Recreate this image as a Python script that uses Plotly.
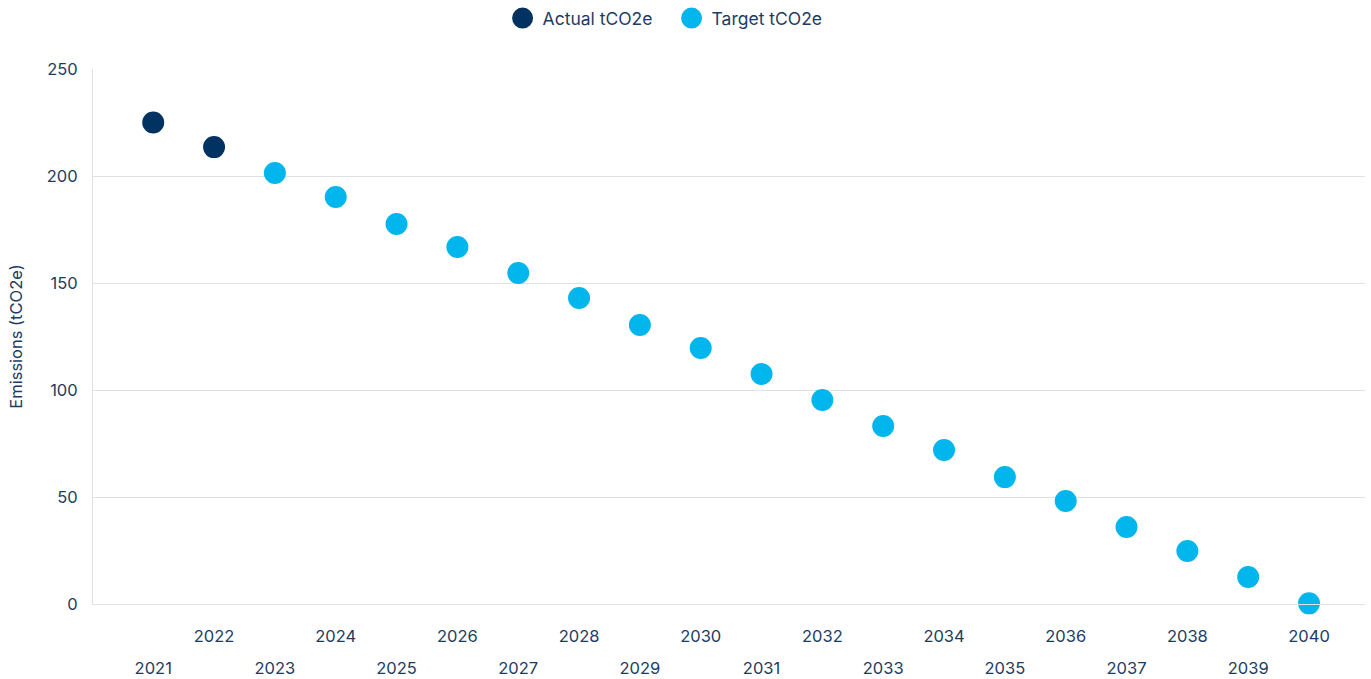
import plotly.graph_objects as go

years_actual = [2021, 2022]
actual_vals = [225, 213.5]
years_target = list(range(2023, 2041))
target_vals = [201.4, 190.2, 177.6, 166.8, 154.7, 143, 130.4, 119.6, 107.5,
               95.3, 83.2, 72, 59.3, 48.1, 36, 24.8, 12.6, 0.3]
all_years = list(range(2021, 2041))
even_years = [y for y in all_years if y % 2 == 0]
odd_years = [y for y in all_years if y % 2 == 1]
y_ticks = [0, 50, 100, 150, 200, 250]

navy = "#003262"
cyan = "#00b6ec"
text_col = "#1d3c63"
grid_col = "#dde2e6"
font_family = "Inter, Roboto, sans-serif"

fig = go.Figure()
fig.add_trace(go.Scatter(x=years_actual, y=actual_vals, mode="markers",
                         name="Actual tCO2e", cliponaxis=False,
                         marker=dict(size=17, color=navy, line=dict(width=5, color=navy))))
fig.add_trace(go.Scatter(x=years_target, y=target_vals, mode="markers",
                         name="Target tCO2e", cliponaxis=False,
                         marker=dict(size=17, color=cyan, line=dict(width=5, color=cyan))))
# invisible trace to bind the second x axis (odd-year labels)
fig.add_trace(go.Scatter(x=[all_years[0]], y=[0], xaxis="x2", mode="markers",
                         marker=dict(opacity=0), showlegend=False, hoverinfo="skip"))

xr = [2020.01, 2040.92]
fig.update_layout(
    width=1371, height=679,
    margin=dict(l=93, r=6, t=69, b=75, autoexpand=False),
    paper_bgcolor="white", plot_bgcolor="white",
    font=dict(family=font_family, color=text_col, size=16),
    showlegend=True,
    legend=dict(orientation="h", x=0.322, xanchor="left", y=1.095, yanchor="middle",
                font=dict(size=17.5, color=text_col), itemsizing="trace",
                entrywidth=124, entrywidthmode="pixels"),
    xaxis=dict(range=xr, tickvals=even_years, ticktext=[str(y) for y in even_years],
               showgrid=False, showline=True, linecolor=grid_col, linewidth=1,
               ticks="", tickfont=dict(size=16.5, color=text_col), ticklabelstandoff=17,
               zeroline=False, automargin=False),
    xaxis2=dict(range=xr, overlaying="x", side="bottom", anchor="y",
                tickvals=odd_years, ticktext=[str(y) for y in odd_years],
                showgrid=False, showline=False, ticks="",
                tickfont=dict(size=16.5, color=text_col), ticklabelstandoff=52,
                zeroline=False, automargin=False),
    yaxis=dict(range=[0, 250], tickvals=y_ticks, showgrid=True, gridcolor=grid_col,
               gridwidth=1, showline=True, linecolor=grid_col, zeroline=False,
               ticks="", ticklabelstandoff=11, tickfont=dict(size=16.5, color=text_col),
               automargin=False,
               title=dict(text="Emissions (tCO2e)", font=dict(size=16.5, color=text_col),
                          standoff=20)),
)

fig.write_html("out.html", config={"displayModeBar": False},
               post_script="document.body.style.margin='0';")
